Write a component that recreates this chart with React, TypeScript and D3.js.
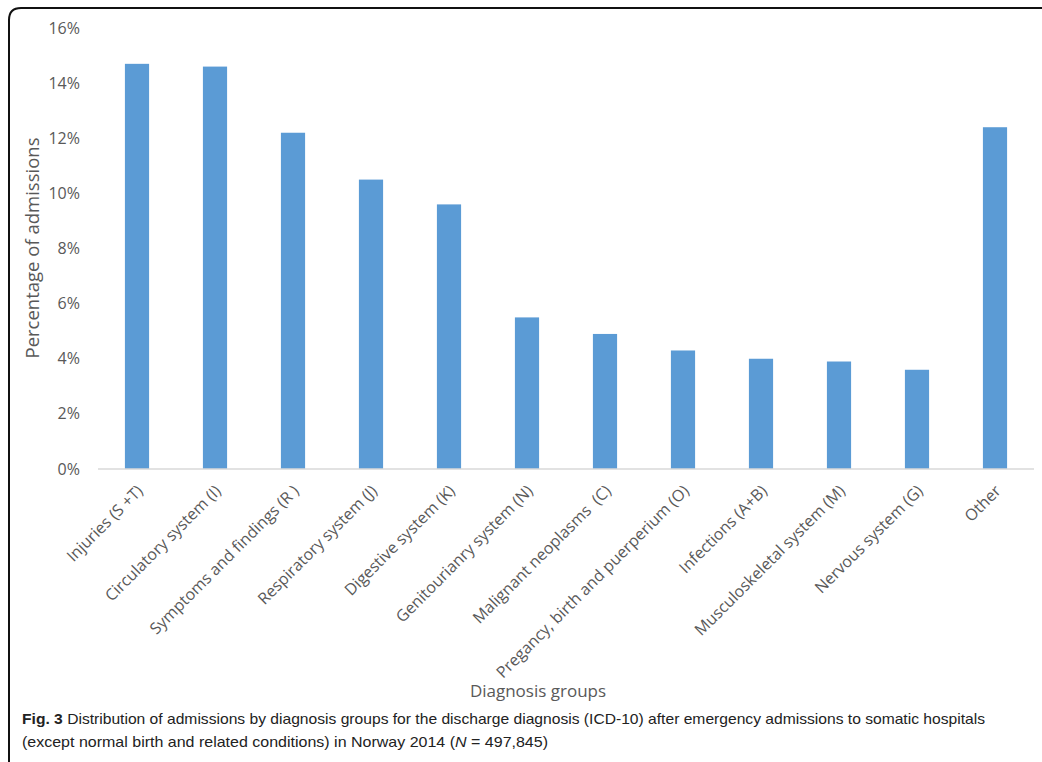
import React from 'react';
import * as d3 from 'd3';

const categories = [
  'Injuries (S +T)',
  'Circulatory system (I)',
  'Symptoms and findings (R )',
  'Respiratory system (J)',
  'Digestive system (K)',
  'Genitourianry system (N)',
  'Malignant neoplasms  (C)',
  'Pregancy, birth and puerperium (O)',
  'Infections (A+B)',
  'Musculoskeletal system (M)',
  'Nervous system (G)',
  'Other',
];
const shares = [14.7, 14.6, 12.2, 10.5, 9.6, 5.5, 4.9, 4.3, 4.0, 3.9, 3.6, 12.4];
const yTicks = [0, 2, 4, 6, 8, 10, 12, 14, 16];

const W = 1042;
const H = 762;
const margin = { left: 98, right: 8, top: 28, bottom: 293 };

const App = () => {
  const x = d3.scaleBand()
    .domain(categories)
    .range([margin.left, W - margin.right])
    .paddingInner(0.69)
    .paddingOuter(0.345);

  const y = d3.scaleLinear()
    .domain([0, 16])
    .range([H - margin.bottom, margin.top]);

  const font = "'Open Sans', sans-serif";
  const grey = '#595959';

  return (
    <div style={{ position: 'absolute', left: 0, top: 0 }}>
      <svg width={W} height={H} style={{ display: 'block', background: '#fff' }}>
        {/* frame */}
        <path d="M9,762 L9,20 Q9,8 21,8 L1042,8" fill="none" stroke="#111" strokeWidth={2} />

        {/* y ticks */}
        {yTicks.map(t => (
          <text key={t} x={80} y={y(t)} dy="0.35em" textAnchor="end"
            fontFamily={font} fontSize={16} fill={grey}>{t}%</text>
        ))}

        {/* bars */}
        {categories.map((c, i) => (
          <rect key={c} x={x(c)} y={y(shares[i])} width={x.bandwidth()}
            height={y(0) - y(shares[i])} fill="#5B9BD5" />
        ))}

        {/* axis line */}
        <line x1={margin.left} x2={W - margin.right} y1={y(0)} y2={y(0)} stroke="#d9d9d9" strokeWidth={1.5} />

        {/* category labels */}
        {categories.map(c => {
          const cx = (x(c) ?? 0) + x.bandwidth() / 2;
          return (
            <text key={c} transform={`translate(${cx + 3},${y(0) + 19}) rotate(-45)`}
              dy="0.35em" textAnchor="end" fontFamily={font} fontSize={16} fill={grey}
              style={{ whiteSpace: 'pre' }}>{c}</text>
          );
        })}

        {/* axis titles */}
        <text transform="translate(39,248) rotate(-90)" textAnchor="middle"
          fontFamily={font} fontSize={18.5} fill={grey}>Percentage of admissions</text>
        <text x={538} y={697} textAnchor="middle" fontFamily={font} fontSize={17} fill={grey}>Diagnosis groups</text>

        {/* caption */}
        <text x={22} y={724} fontFamily="'Liberation Sans', sans-serif" fontSize={15} fill="#222"
          textLength={963} lengthAdjust="spacingAndGlyphs">
          <tspan fontWeight="bold">Fig. 3</tspan> Distribution of admissions by diagnosis groups for the discharge diagnosis (ICD-10) after emergency admissions to somatic hospitals
        </text>
        <text x={22} y={747} fontFamily="'Liberation Sans', sans-serif" fontSize={15} fill="#222"
          textLength={526} lengthAdjust="spacingAndGlyphs">
          (except normal birth and related conditions) in Norway 2014 (<tspan fontStyle="italic">N</tspan> = 497,845)
        </text>
      </svg>
    </div>
  );
};

export default App;
